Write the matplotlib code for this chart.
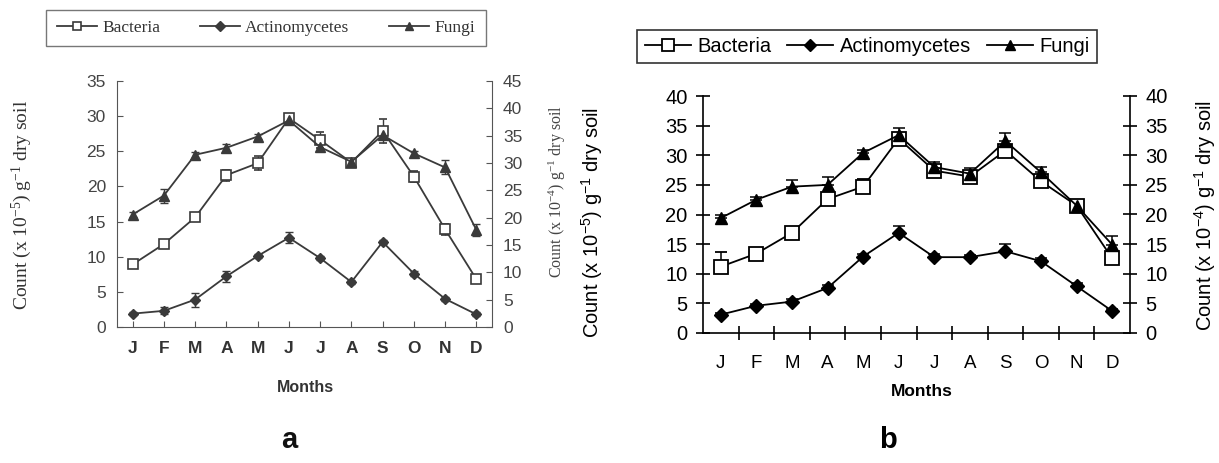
import matplotlib
matplotlib.use("Agg")
import matplotlib.pyplot as plt
from matplotlib.lines import Line2D
import numpy as np

plt.rcParams["mathtext.default"] = "regular"

months = ["J", "F", "M", "A", "M", "J", "J", "A", "S", "O", "N", "D"]

# Panel a (values in left-axis units)
a_bacteria = [8.9, 11.8, 15.6, 21.6, 23.3, 29.7, 26.6, 23.4, 27.9, 21.4, 13.9, 6.8]
a_bacteria_err = [0.4, 0.6, 0.4, 0.8, 1.0, 0.5, 1.2, 0.4, 1.7, 0.8, 0.8, 0.5]
a_actino = [1.9, 2.3, 3.9, 7.2, 10.1, 12.7, 9.8, 6.4, 12.1, 7.6, 4.0, 1.8]
a_actino_err = [0.2, 0.5, 1.0, 0.8, 0.3, 0.8, 0.3, 0.3, 0.3, 0.3, 0.3, 0.3]
a_fungi = [16.0, 18.7, 24.5, 25.5, 27.1, 29.4, 25.6, 23.5, 27.3, 24.7, 22.7, 13.8]
a_fungi_err = [0.4, 1.0, 0.4, 0.6, 0.4, 0.4, 0.6, 0.3, 0.6, 0.4, 1.0, 0.8]

# Panel b
b_bacteria = [11.2, 13.4, 16.9, 22.6, 24.7, 32.8, 27.4, 26.4, 30.8, 25.6, 21.5, 12.6]
b_bacteria_err = [2.5, 0.5, 0.5, 0.6, 1.3, 0.6, 0.8, 0.6, 0.8, 0.6, 0.5, 0.5]
b_actino = [3.1, 4.6, 5.3, 7.6, 12.9, 16.9, 12.8, 12.8, 13.8, 12.1, 7.9, 3.7]
b_actino_err = [0.3, 0.3, 0.4, 0.5, 0.5, 1.1, 0.5, 0.4, 1.2, 0.6, 0.5, 0.3]
b_fungi = [19.4, 22.5, 24.7, 25.0, 30.4, 33.4, 28.0, 26.9, 32.4, 27.1, 21.5, 14.9]
b_fungi_err = [0.5, 0.5, 1.1, 1.3, 0.5, 1.2, 0.8, 0.9, 1.3, 0.9, 0.6, 1.4]

series_names = ["Bacteria", "Actinomycetes", "Fungi"]
a_left_ticks = [0, 5, 10, 15, 20, 25, 30, 35]
a_right_ticks = [0, 5, 10, 15, 20, 25, 30, 35, 40, 45]
b_ticks = [0, 5, 10, 15, 20, 25, 30, 35, 40]

W, H = 1219, 463
fig = plt.figure(figsize=(W / 100, H / 100), dpi=100)
x = np.arange(len(months))

SANS = ["Liberation Sans", "DejaVu Sans"]
SERIF = ["Liberation Serif", "DejaVu Serif"]

# ---------------- Panel a ----------------
ca = "#3a3a3a"
axa = fig.add_axes([117 / W, 1 - 327 / H, 375 / W, 246 / H])
axa.set_xlim(-0.5, 11.5)
axa.set_ylim(0, 35)
kw = dict(color=ca, lw=1.3, capsize=3, elinewidth=1.0, capthick=1.0)
axa.errorbar(x, a_bacteria, yerr=a_bacteria_err, marker="s", ms=7, mfc="white",
             mec=ca, mew=1.2, **kw)
axa.errorbar(x, a_actino, yerr=a_actino_err, marker="D", ms=5.5, mfc=ca, mec=ca, **kw)
axa.errorbar(x, a_fungi, yerr=a_fungi_err, marker="^", ms=6.5, mfc=ca, mec=ca, **kw)
axa.set_xticks(x)
axa.set_xticklabels(months, fontfamily=SANS, fontsize=12.5, fontweight="bold", color="#333333")
axa.set_yticks(a_left_ticks)
axa.set_yticklabels([str(t) for t in a_left_ticks], fontfamily=SANS, fontsize=12.5, color="#444444")
axa.tick_params(axis="both", direction="in", length=4, color="#555555", pad=8)
axa.tick_params(axis="x", pad=10)
for s in ["top", "right"]:
    axa.spines[s].set_visible(False)
for s in ["left", "bottom"]:
    axa.spines[s].set_color("#555555")
axa2 = axa.twinx()
axa2.set_ylim(0, 45)
axa2.set_yticks(a_right_ticks)
axa2.set_yticklabels([str(t) for t in a_right_ticks], fontfamily=SANS, fontsize=12.5, color="#444444")
axa2.tick_params(axis="y", direction="in", length=4, color="#555555", pad=8)
for s in ["top", "left", "bottom"]:
    axa2.spines[s].set_visible(False)
axa2.spines["right"].set_color("#555555")

fig.text(22 / W, 1 - 205 / H, "Count (x 10$^{-5}$) g$^{-1}$ dry soil", rotation=90,
         ha="center", va="center", fontfamily=SERIF, fontsize=14, color="#333333")
fig.text(557 / W, 1 - 192 / H, "Count (x 10$^{-4}$) g$^{-1}$ dry soil", rotation=90,
         ha="center", va="center", fontfamily=SERIF, fontsize=11.5, color="#444444")
fig.text(305 / W, 1 - 387 / H, "Months", ha="center", va="center",
         fontfamily=SANS, fontsize=11.5, fontweight="bold", color="#333333")
fig.text(289 / W, 1 - 440 / H, "a", ha="center", va="center",
         fontfamily=SANS, fontsize=21, fontweight="bold", color="#111111")

ha_handles = [
    Line2D([], [], color=ca, lw=1.3, marker="s", ms=6, mfc="white", mec=ca, mew=1.2),
    Line2D([], [], color=ca, lw=1.3, marker="D", ms=5, mfc=ca, mec=ca),
    Line2D([], [], color=ca, lw=1.3, marker="^", ms=6, mfc=ca, mec=ca),
]
la = fig.legend(ha_handles, series_names, loc="center",
                bbox_to_anchor=(266 / W, 1 - 28 / H), ncol=3, frameon=True,
                fancybox=False, edgecolor="#555555", prop={"family": SERIF, "size": 12.5},
                handlelength=2.3, columnspacing=2.3, handletextpad=0.3,
                borderpad=0.6, borderaxespad=0)
la.get_frame().set_linewidth(1.0)
for t in la.get_texts():
    t.set_color("#333333")

# ---------------- Panel b ----------------
cb = "black"
axb = fig.add_axes([703 / W, 1 - 333 / H, 427 / W, 237 / H])
axb.set_xlim(-0.5, 11.5)
axb.set_ylim(0, 40)
kw = dict(color=cb, lw=1.3, capsize=4, elinewidth=1.1, capthick=1.1)
axb.errorbar(x, b_bacteria, yerr=[np.zeros(12), b_bacteria_err], marker="s", ms=9.5,
             mfc="white", mec=cb, mew=1.3, **kw)
axb.errorbar(x, b_actino, yerr=[np.zeros(12), b_actino_err], marker="D", ms=7,
             mfc=cb, mec=cb, **kw)
axb.errorbar(x, b_fungi, yerr=[np.zeros(12), b_fungi_err], marker="^", ms=8.5,
             mfc=cb, mec=cb, **kw)
axb.set_xticks(x)
axb.set_xticklabels(months, fontfamily=SANS, fontsize=13.5)
axb.set_xticks(np.arange(0.5, 11.5, 1), minor=True)
axb.tick_params(axis="x", which="major", length=0, pad=16)
axb.tick_params(axis="x", which="minor", direction="inout", length=10, width=1.2)
axb.set_yticks(b_ticks)
axb.set_yticklabels([str(t) for t in b_ticks], fontfamily=SANS, fontsize=14.5)
axb.tick_params(axis="y", direction="inout", length=10, width=1.2, pad=6)
for s in ["top", "right"]:
    axb.spines[s].set_visible(False)
for s in ["left", "bottom"]:
    axb.spines[s].set_linewidth(1.2)
axb2 = axb.twinx()
axb2.set_ylim(0, 40)
axb2.set_yticks(b_ticks)
axb2.set_yticklabels([str(t) for t in b_ticks], fontfamily=SANS, fontsize=14.5)
axb2.tick_params(axis="y", direction="inout", length=10, width=1.2, pad=6)
for s in ["top", "left", "bottom"]:
    axb2.spines[s].set_visible(False)
axb2.spines["right"].set_linewidth(1.2)

fig.text(592 / W, 1 - 222 / H, "Count (x 10$^{-5}$) g$^{-1}$ dry soil", rotation=90,
         ha="center", va="center", fontfamily=SANS, fontsize=14.5)
fig.text(1205 / W, 1 - 215 / H, "Count (x 10$^{-4}$) g$^{-1}$ dry soil", rotation=90,
         ha="center", va="center", fontfamily=SANS, fontsize=14.5)
fig.text(922 / W, 1 - 391 / H, "Months", ha="center", va="center",
         fontfamily=SANS, fontsize=12.5, fontweight="bold")
fig.text(888 / W, 1 - 440 / H, "b", ha="center", va="center",
         fontfamily=SANS, fontsize=21, fontweight="bold")

hb_handles = [
    Line2D([], [], color=cb, lw=1.3, marker="s", ms=8, mfc="white", mec=cb, mew=1.3),
    Line2D([], [], color=cb, lw=1.3, marker="D", ms=6.5, mfc=cb, mec=cb),
    Line2D([], [], color=cb, lw=1.3, marker="^", ms=7.5, mfc=cb, mec=cb),
]
lb = fig.legend(hb_handles, series_names, loc="center",
                bbox_to_anchor=(867 / W, 1 - 46.5 / H), ncol=3, frameon=True,
                fancybox=False, edgecolor="black", prop={"family": SANS, "size": 14.5},
                handlelength=2.3, columnspacing=0.8, handletextpad=0.3,
                borderpad=0.35, borderaxespad=0)
lb.get_frame().set_linewidth(1.2)

fig.savefig("out.png", dpi=100)
